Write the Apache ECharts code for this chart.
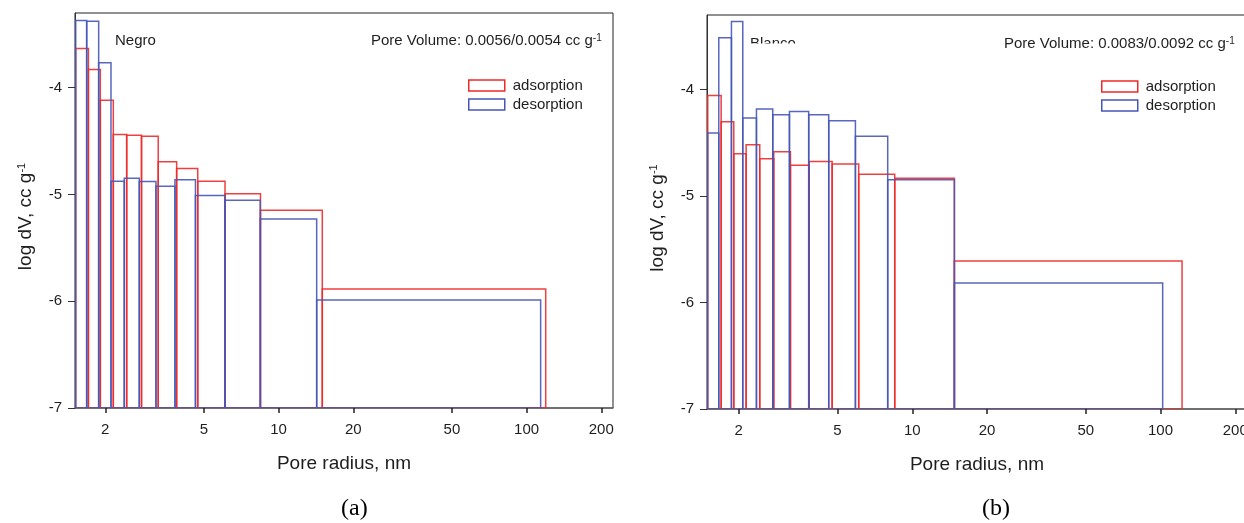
<!DOCTYPE html>
<html>
<head>
<meta charset="utf-8">
<title>Pore size distribution — Negro / Blanco</title>
<script src="https://cdn.jsdelivr.net/npm/echarts@6/dist/echarts.min.js"></script>
<style>
  html, body { margin: 0; padding: 0; background: #fff; overflow: hidden; }
  /* the right-hand panel runs a few pixels past the page edge */
  #chart { width: 1252px; height: 523px; }
</style>
</head>
<body>
<div id="chart"></div>
<script>
// Shared axis ticks
const radiusTicks = [2, 5, 10, 20, 50, 100, 200];   // pore radius, nm (log scale)
const logDvTicks = [-7, -6, -5, -4];

// Axis extents
const radiusMinA = 1.51;
const radiusMinB = 1.49;
const radiusMax = 223;
const logDvMin = -7;
const logDvMax = -3.3;

// (a) Negro — bin edges (nm) and log dV per bin
const negroAdsEdges = [1.52, 1.71, 1.91, 2.155, 2.44, 2.80, 3.27, 3.88, 4.72, 6.08, 8.45, 15.0, 119.4];
const negroAdsLogDv = [-3.633, -3.829, -4.117, -4.439, -4.445, -4.455, -4.694, -4.757, -4.876, -4.992, -5.148, -5.885];
const negroDesEdges = [1.52, 1.683, 1.881, 2.109, 2.386, 2.743, 3.202, 3.820, 4.621, 6.077, 8.435, 14.24, 113.9];
const negroDesLogDv = [-3.370, -3.377, -3.767, -4.876, -4.848, -4.879, -4.923, -4.863, -5.010, -5.054, -5.229, -5.988];

// (b) Blanco — bin edges (nm) and log dV per bin
const blancoAdsEdges = [1.50, 1.699, 1.910, 2.142, 2.430, 2.767, 3.231, 3.842, 4.756, 6.085, 8.499, 14.78, 122.1];
const blancoAdsLogDv = [-4.057, -4.302, -4.603, -4.518, -4.650, -4.584, -4.710, -4.676, -4.700, -4.795, -4.834, -5.609];
const blancoDesEdges = [1.50, 1.662, 1.869, 2.076, 2.357, 2.742, 3.201, 3.827, 4.608, 5.902, 7.963, 14.78, 102.0];
const blancoDesLogDv = [-4.408, -3.513, -3.362, -4.267, -4.182, -4.236, -4.207, -4.236, -4.292, -4.438, -4.848, -5.816];

const seriesNames = ['adsorption', 'desorption'];
const panelLabels = ['Negro', 'Blanco'];
const poreVolumeTexts = ['Pore Volume: 0.0056/0.0054 cc g', 'Pore Volume: 0.0083/0.0092 cc g'];
const captions = ['(a)', '(b)'];

const RED = '#ee2a2a';
const BLUE = '#4656b6';
const TEXT = '#1e1e1e';
const FONT = '"Liberation Sans", Arial, sans-serif';

// Each bin becomes [log10(left edge), log10(right edge), log dV]
function toBins(edges, values) {
  return values.map((v, i) => [Math.log10(edges[i]), Math.log10(edges[i + 1]), v]);
}

// Outline rectangle from the baseline up to the bin value
function makeRenderer(color) {
  return function (params, api) {
    const top = api.coord([api.value(0), api.value(2)]);
    const bottom = api.coord([api.value(1), logDvMin]);
    return {
      type: 'rect',
      shape: { x: top[0], y: top[1], width: bottom[0] - top[0], height: bottom[1] - top[1] },
      style: { fill: 'none', stroke: color, lineWidth: 1.5, opacity: 0.9 }
    };
  };
}

function xAxisFor(gridIndex, minR) {
  return {
    type: 'value', gridIndex,
    min: Math.log10(minR), max: Math.log10(radiusMax),
    name: 'Pore radius, nm', nameLocation: 'middle', nameGap: 46,
    nameTextStyle: { fontFamily: FONT, fontSize: 19, color: TEXT },
    axisLine: { show: true, lineStyle: { color: '#666', width: 1.5 } },
    axisTick: { show: true, length: 5, lineStyle: { color: '#222', width: 1.5 },
                customValues: radiusTicks.map(Math.log10) },
    axisLabel: { fontFamily: FONT, fontSize: 15, color: TEXT, margin: 14,
                 customValues: radiusTicks.map(Math.log10),
                 formatter: v => String(Math.round(Math.pow(10, v))) },
    splitLine: { show: false }
  };
}

function yAxisFor(gridIndex) {
  return {
    type: 'value', gridIndex,
    min: logDvMin, max: logDvMax,
    name: 'log dV, cc g{sup|-1}', nameLocation: 'middle', nameGap: 40,
    nameTextStyle: { fontFamily: FONT, fontSize: 19, color: TEXT, padding: [0, 12, 0, 0],
                     rich: { sup: { fontFamily: FONT, fontSize: 11, color: TEXT, verticalAlign: 'top' } } },
    axisLine: { show: true, lineStyle: { color: '#333', width: 1 } },
    axisTick: { show: true, length: 7, lineStyle: { color: '#333', width: 1 }, customValues: logDvTicks },
    axisLabel: { fontFamily: FONT, fontSize: 15, color: TEXT, margin: 13, customValues: logDvTicks },
    splitLine: { show: false }
  };
}

function legendFor(left, top) {
  return {
    left, top, orient: 'vertical', itemWidth: 36, itemHeight: 11, itemGap: 4,
    padding: 0, selectedMode: false,
    textStyle: { fontFamily: FONT, fontSize: 15, color: TEXT, lineHeight: 15, padding: [0, 0, 0, 3] },
    data: [
      { name: seriesNames[0], icon: 'rect', itemStyle: { color: '#fff', borderColor: RED, borderWidth: 1.5 } },
      { name: seriesNames[1], icon: 'rect', itemStyle: { color: '#fff', borderColor: BLUE, borderWidth: 1.5 } }
    ]
  };
}

function binSeries(name, axisIndex, edges, values, color) {
  return {
    type: 'custom', name,
    xAxisIndex: axisIndex, yAxisIndex: axisIndex,
    data: toBins(edges, values),
    encode: { x: [0, 1], y: 2 },
    renderItem: makeRenderer(color),
    clip: true,
    itemStyle: { color }
  };
}

const chart = echarts.init(document.getElementById('chart'), null, { renderer: 'canvas' });

chart.setOption({
  backgroundColor: '#fff',
  animation: false,
  grid: [
    { left: 75, top: 13, width: 538, height: 395, show: true, borderColor: '#222', borderWidth: 1, backgroundColor: '#fff' },
    { left: 707, top: 15, width: 540, height: 394, show: true, borderColor: '#222', borderWidth: 1, backgroundColor: '#fff' }
  ],
  xAxis: [xAxisFor(0, radiusMinA), xAxisFor(1, radiusMinB)],
  yAxis: [yAxisFor(0), yAxisFor(1)],
  legend: [legendFor(468, 78), legendFor(1101, 79)],
  series: [
    binSeries(seriesNames[0], 0, negroAdsEdges, negroAdsLogDv, RED),
    binSeries(seriesNames[1], 0, negroDesEdges, negroDesLogDv, BLUE),
    binSeries(seriesNames[0], 1, blancoAdsEdges, blancoAdsLogDv, RED),
    binSeries(seriesNames[1], 1, blancoDesEdges, blancoDesLogDv, BLUE)
  ],
  graphic: [
    // panel names
    { type: 'text', left: 115, top: 33, z: 10,
      style: { text: panelLabels[0], fontFamily: FONT, fontSize: 15, fill: TEXT } },
    { type: 'text', left: 750, top: 36, z: 10,
      style: { text: panelLabels[1], fontFamily: FONT, fontSize: 15, fill: TEXT } },
    // the lower half of the Blanco label is masked
    { type: 'rect', left: 746, top: 43.6, z: 11,
      shape: { width: 56, height: 9 }, style: { fill: '#fff' } },
    // pore volume annotations
    { type: 'text', left: 371, top: 33, z: 10,
      style: { text: poreVolumeTexts[0] + '{sup|-1}', fontFamily: FONT, fontSize: 15, fill: TEXT,
               rich: { sup: { fontFamily: FONT, fontSize: 10, fill: TEXT, verticalAlign: 'top' } } } },
    { type: 'text', left: 1004, top: 36, z: 10,
      style: { text: poreVolumeTexts[1] + '{sup|-1}', fontFamily: FONT, fontSize: 15, fill: TEXT,
               rich: { sup: { fontFamily: FONT, fontSize: 10, fill: TEXT, verticalAlign: 'top' } } } },
    // sub-figure captions
    { type: 'text', left: 341, top: 497, z: 10,
      style: { text: captions[0], fontFamily: '"Liberation Serif", "Times New Roman", serif', fontSize: 24, fill: '#000' } },
    { type: 'text', left: 982, top: 497, z: 10,
      style: { text: captions[1], fontFamily: '"Liberation Serif", "Times New Roman", serif', fontSize: 24, fill: '#000' } }
  ]
});
</script>
</body>
</html>
